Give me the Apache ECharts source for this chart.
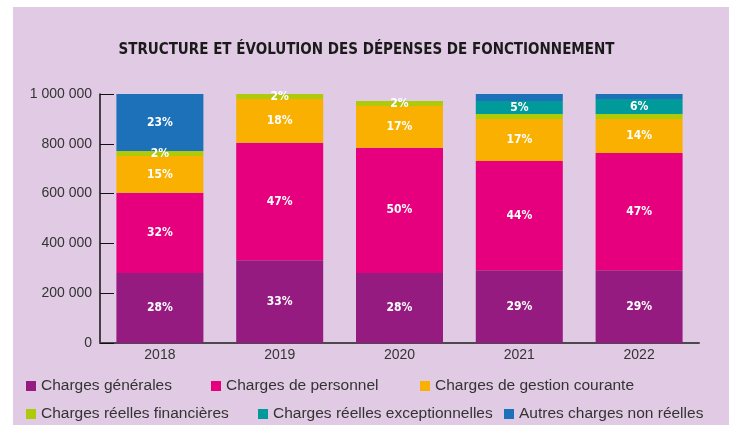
<!DOCTYPE html>
<html style="height: 100%">
<head>
	<meta charset="utf-8">
	<title></title>
	<script type="text/javascript" src="https://cdn.jsdelivr.net/npm/echarts@6/dist/echarts.min.js"></script>
	<style>
		body{margin:0;height:100%;background:#fff;}
		#bg{position:absolute;left:13px;top:7px;right:4px;bottom:0;background:#e1cae3;}
		#container{position:absolute;left:0;top:0;width:733px;height:425px;}
	</style>
	<script type="text/javascript">
		// annees
		var years=['2018','2019','2020','2021','2022'];
		// montants (euros)
		var chargesGenerales=[281500,332500,281500,292300,292300];
		var chargesPersonnel=[321500,471500,502500,438300,470700];
		var chargesGestion=[147700,176000,167800,168900,136500];
		var chargesFinancieres=[20100,20000,20100,20100,20100];
		var chargesExceptionnelles=[0,0,0,52300,60400];
		var autresCharges=[229200,0,0,28100,20000];
		// parts affichees
		var pctGenerales=['28%','33%','28%','29%','29%'];
		var pctPersonnel=['32%','47%','50%','44%','47%'];
		var pctGestion=['15%','18%','17%','17%','14%'];
		var pctFinancieres=['2%','2%','2%','',''];
		var pctExceptionnelles=['','','','5%','6%'];
		var pctAutres=['23%','','','',''];
		var yTicks=[0,200000,400000,600000,800000,1000000];

		window.onload=function(){
			var myChart=echarts.init(document.getElementById('container'));

			var defs=[
				{name:'Charges générales',data:chargesGenerales,pct:pctGenerales,color:'#951b81',x:26,y:378},
				{name:'Charges de personnel',data:chargesPersonnel,pct:pctPersonnel,color:'#e6007e',x:211,y:378},
				{name:'Charges de gestion courante',data:chargesGestion,pct:pctGestion,color:'#f9b000',x:420,y:378},
				{name:'Charges réelles financières',data:chargesFinancieres,pct:pctFinancieres,color:'#afca0b',x:26,y:406},
				{name:'Charges réelles exceptionnelles',data:chargesExceptionnelles,pct:pctExceptionnelles,color:'#009a9a',x:258,y:406},
				{name:'Autres charges non réelles',data:autresCharges,pct:pctAutres,color:'#1d71b8',x:504,y:406}
			];

			var series=[];
			var legends=[];
			for(var i=0;i<defs.length;i++){
				(function(d){
					series.push({
						name:d.name,
						type:'bar',
						stack:'total',
						barWidth:87,
						data:d.data,
						itemStyle:{color:d.color},
						label:{
							show:true,
							position:'inside',
							color:'#fff',
							fontWeight:'bold',
							fontSize:12,
							fontFamily:'DejaVu Sans Condensed, DejaVu Sans',
							formatter:function(p){return d.pct[p.dataIndex];}
						}
					});
					legends.push({
						data:[d.name],
						left:d.x,
						top:d.y,
						icon:'rect',
						itemWidth:10,
						itemHeight:10,
						itemGap:0,
						padding:0,
						selectedMode:false,
						textStyle:{color:'#333',fontSize:15.5,fontFamily:'Liberation Sans'}
					});
				})(defs[i]);
			}

			var option={
				animation:false,
				title:{
					text:'STRUCTURE ET ÉVOLUTION DES DÉPENSES DE FONCTIONNEMENT',
					left:'center',
					top:38,
					textStyle:{fontSize:15,fontWeight:'bold',color:'#1a1a1a',fontFamily:'DejaVu Sans Condensed, DejaVu Sans'}
				},
				legend:legends,
				grid:{left:100,right:34,top:94,bottom:82},
				xAxis:{
					type:'category',
					data:years,
					axisLine:{lineStyle:{color:'#4a4a4a',width:2}},
					axisTick:{inside:true,length:6,lineStyle:{color:'#4a4a4a'}},
					axisLabel:{color:'#333',fontSize:14,fontFamily:'Liberation Sans',margin:5}
				},
				yAxis:{
					type:'value',
					min:yTicks[0],
					max:yTicks[yTicks.length-1],
					interval:yTicks[1]-yTicks[0],
					splitLine:{show:false},
					axisLine:{show:true,lineStyle:{color:'#111',width:1.5}},
					axisTick:{show:true,inside:true,length:14,lineStyle:{color:'#111'}},
					axisLabel:{
						color:'#333',fontSize:14,fontFamily:'Liberation Sans',margin:8,
						formatter:function(v){return String(v).replace(/\B(?=(\d{3})+(?!\d))/g,' ');}
					}
				},
				series:series
			};
			myChart.setOption(option);
		};
	</script>
</head>
<body>
<div id="bg"></div>
<div id="container"></div>
</body>
</html>
